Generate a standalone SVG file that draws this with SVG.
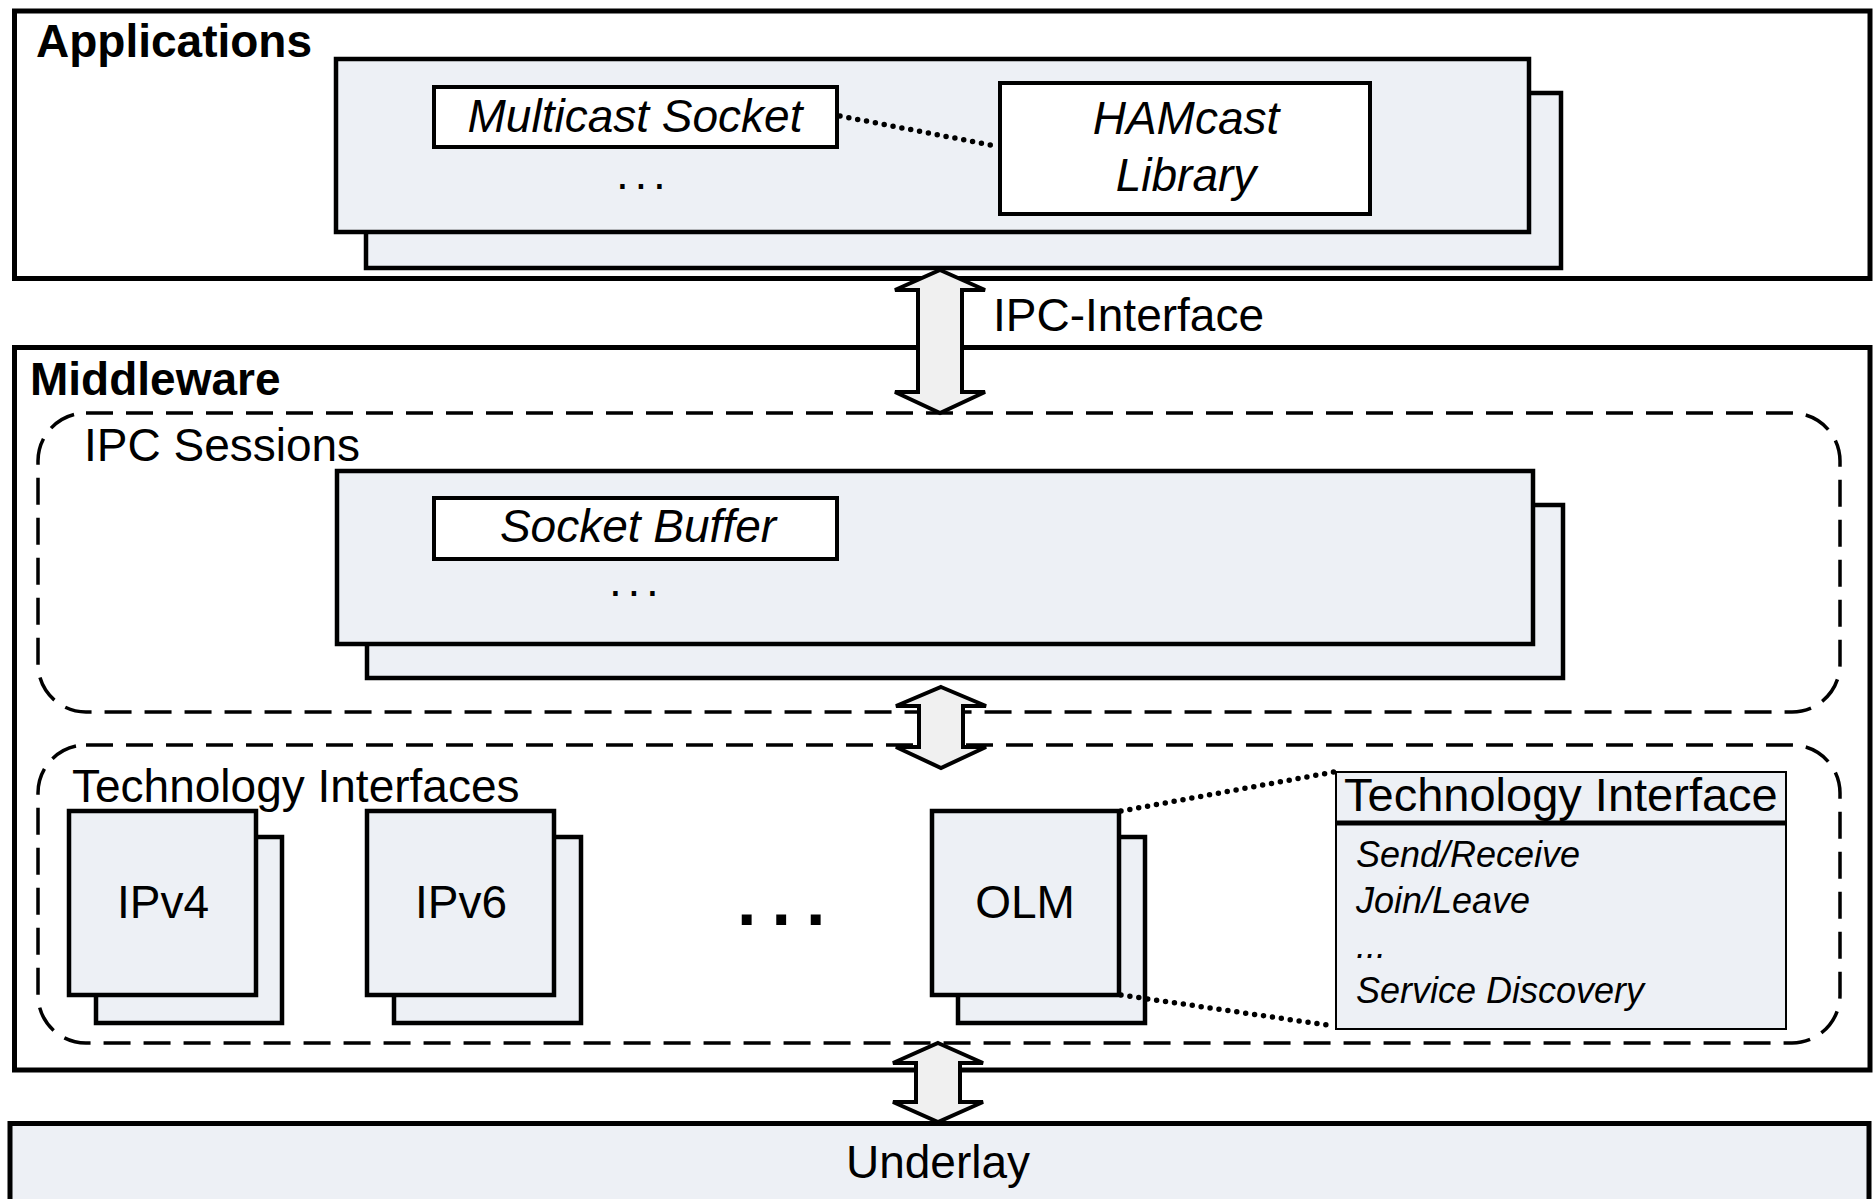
<svg xmlns="http://www.w3.org/2000/svg" width="1876" height="1199" viewBox="0 0 1876 1199">
<style>
text{font-family:"Liberation Sans",Arial,sans-serif;font-size:46px;fill:#000}
.b{font-weight:bold}
.i{font-style:italic}
.c{text-anchor:middle}
.dots{letter-spacing:5.7px}
.layer{fill:#fff;stroke:#000;stroke-width:5}
.blue{fill:#edf0f5;stroke:#000;stroke-width:4.5}
.white{fill:#fff;stroke:#000;stroke-width:4}
.dash{fill:none;stroke:#000;stroke-width:3.5;stroke-dasharray:27 13}
.dot{fill:none;stroke:#000;stroke-width:5.5;stroke-linecap:round;stroke-dasharray:0 9}
.arrow{fill:#f0f0f0;stroke:#000;stroke-width:4;stroke-linejoin:miter}
.small{font-size:36px}
</style>

<g id="applications">
<rect class="layer" x="14.5" y="11" width="1855.5" height="267.5"/>
<text class="b" x="36" y="57">Applications</text>
</g>
<g id="app-stack">
<rect class="blue" x="366" y="93" width="1195" height="175"/>
<rect class="blue" x="336" y="59" width="1193" height="173"/>
</g>
<g id="multicast-socket">
<rect class="white" x="434" y="87" width="403" height="60"/>
<text class="i c" x="635" y="132">Multicast Socket</text>
</g>
<text class="dots" x="616" y="189">...</text>
<g id="hamcast-library">
<rect class="white" x="1000" y="83" width="370" height="131"/>
<text class="i c" x="1186" y="134">HAMcast</text>
<text class="i c" x="1186" y="191">Library</text>
</g>

<g id="middleware">
<rect class="layer" x="14.5" y="347.5" width="1855.5" height="722.5"/>
<text class="b" x="30" y="395">Middleware</text>
</g>

<g id="ipc-sessions">
<rect class="dash" x="38" y="413" width="1802" height="299" rx="48" ry="48"/>
<text x="84" y="461">IPC Sessions</text>
</g>
<g id="session-stack">
<rect class="blue" x="367" y="505" width="1196" height="173"/>
<rect class="blue" x="337" y="471" width="1196" height="173"/>
</g>
<g id="socket-buffer">
<rect class="white" x="434" y="498" width="403" height="61"/>
<text class="i c" x="638" y="542">Socket Buffer</text>
</g>
<text class="dots" x="609" y="596">...</text>

<g id="technology-interfaces">
<rect class="dash" x="38" y="745" width="1802" height="298" rx="48" ry="48"/>
<text x="72" y="802">Technology Interfaces</text>
</g>
<g id="ipv4">
<rect class="blue" x="96" y="837" width="186" height="186"/>
<rect class="blue" x="69" y="811" width="187" height="184"/>
<text class="c" x="163" y="918">IPv4</text>
</g>
<g id="ipv6">
<rect class="blue" x="394" y="837" width="187" height="186"/>
<rect class="blue" x="367" y="811" width="187" height="184"/>
<text class="c" x="461" y="918">IPv6</text>
</g>
<text class="b" x="737" y="925" style="font-size:70px;letter-spacing:15px">...</text>
<g id="olm">
<rect class="blue" x="958" y="837" width="187" height="186"/>
<rect class="blue" x="932" y="811" width="187" height="184"/>
<text class="c" x="1025" y="918">OLM</text>
</g>
<g id="technology-interface">
<rect x="1336" y="772" width="450" height="257" fill="#edf0f5" stroke="#000" stroke-width="2"/>
<line x1="1336" y1="823" x2="1786" y2="823" stroke="#000" stroke-width="5"/>
<text x="1344" y="811" style="font-size:47px">Technology Interface</text>
<text class="i small" x="1356" y="867">Send/Receive</text>
<text class="i small" x="1356" y="913">Join/Leave</text>
<text class="i small" x="1356" y="958">...</text>
<text class="i small" x="1356" y="1003">Service Discovery</text>
</g>

<g id="underlay">
<rect x="10" y="1123.5" width="1859" height="90" fill="#edf0f5" stroke="#000" stroke-width="5"/>
<text class="c" x="938" y="1178">Underlay</text>
</g>

<g id="connectors">
<line class="dot" x1="840" y1="116" x2="996" y2="146"/>
<line class="dot" x1="1121" y1="811" x2="1334" y2="772"/>
<line class="dot" x1="1121" y1="995" x2="1334" y2="1026"/>
<path class="arrow" d="M940,270 L985,290 L962,290 L962,392 L985,392 L940,413 L895,392 L918,392 L918,290 L895,290 Z"/>
<path class="arrow" d="M941,687 L986,706 L963,706 L963,747 L986,747 L941,768 L896,747 L919,747 L919,706 L896,706 Z"/>
<path class="arrow" d="M938,1043 L983,1063 L960,1063 L960,1102 L983,1102 L938,1122 L893,1102 L916,1102 L916,1063 L893,1063 Z"/>
<text x="993" y="331">IPC-Interface</text>
</g>
</svg>
